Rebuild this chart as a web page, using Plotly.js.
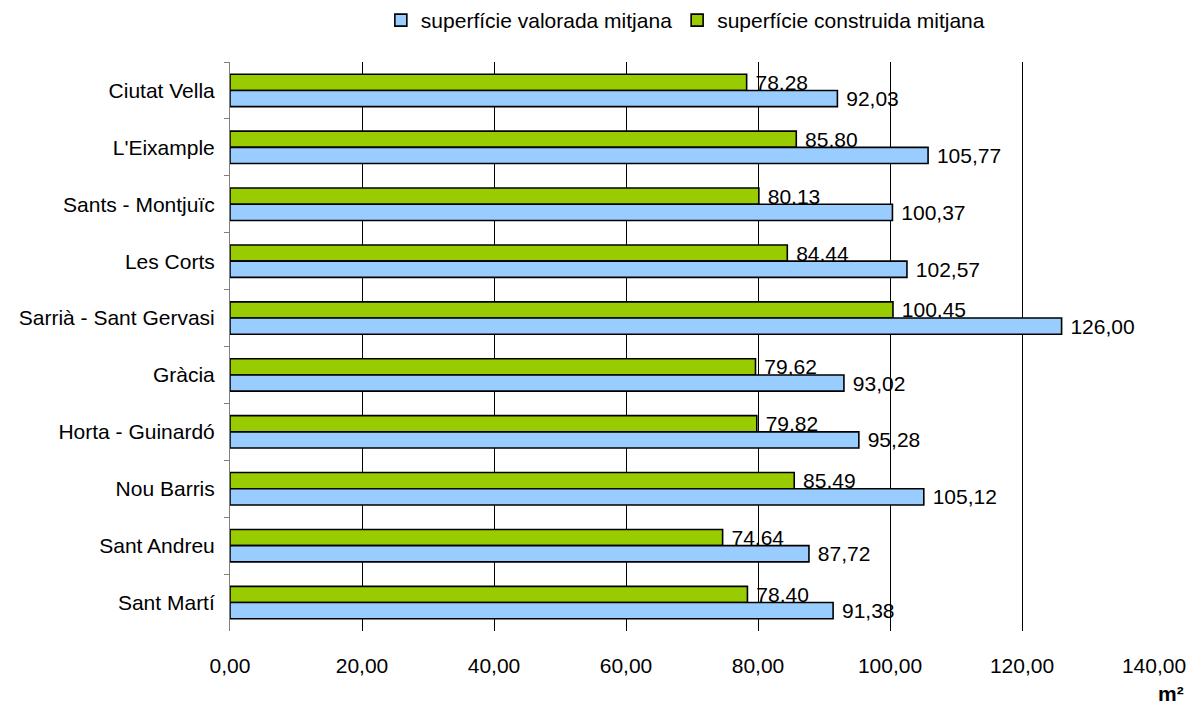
<!DOCTYPE html>
<html>
<head>
<meta charset="utf-8">
<script src="https://cdn.plot.ly/plotly-3.0.1.min.js"></script>
<style>html,body{margin:0;padding:0;background:#fff;}#chart{width:1194px;height:712px;}</style>
</head>
<body>
<div id="chart"></div>
<script>
const districts = ["Ciutat Vella","L'Eixample","Sants - Montjuïc","Les Corts","Sarrià - Sant Gervasi","Gràcia","Horta - Guinardó","Nou Barris","Sant Andreu","Sant Martí"];
const valorada = [92.03,105.77,100.37,102.57,126.00,93.02,95.28,105.12,87.72,91.38];
const construida = [78.28,85.80,80.13,84.44,100.45,79.62,79.82,85.49,74.64,78.40];
const seriesNames = ["superfície valorada mitjana","superfície construida mitjana"];
const xTicks = [0,20,40,60,80,100,120,140];
const unitLabel = "m²";

const font = "Liberation Sans, Arial, sans-serif";
const fs = 21;
// green trace first so it sits above the blue bar (y axis reversed); legend order reversed
const traces = [
  {type:'bar', orientation:'h', name:seriesNames[1], y:districts, x:construida,
   marker:{color:'#99CC00', line:{color:'#000', width:1.6}},
   texttemplate:' %{x:.2f}', textposition:'outside', cliponaxis:false, constraintext:'none',
   textfont:{family:font, size:fs, color:'#000'}, hoverinfo:'x+y'},
  {type:'bar', orientation:'h', name:seriesNames[0], y:districts, x:valorada,
   marker:{color:'#99CCFF', line:{color:'#000', width:1.6}},
   texttemplate:' %{x:.2f}', textposition:'outside', cliponaxis:false, constraintext:'none',
   textfont:{family:font, size:fs, color:'#000'}, hoverinfo:'x+y'}
];
const layout = {
  width:1194, height:712,
  margin:{l:230, r:40, t:62, b:81},
  separators:',.',
  barmode:'group', bargap:0.43, bargroupgap:0,
  paper_bgcolor:'#fff', plot_bgcolor:'#fff',
  font:{family:font, size:fs, color:'#000'},
  showlegend:true,
  legend:{orientation:'h', x:0.574, xanchor:'center', y:1.0, yanchor:'top', xref:'container', yref:'container',
          font:{family:font, size:fs, color:'#000'}, traceorder:'reversed', itemwidth:30, tracegroupgap:0},
  xaxis:{range:[0,140], tickvals:xTicks, tickformat:'.2f', showgrid:true, gridcolor:'#000', gridwidth:1,
         zeroline:false, showline:false, ticks:'', tickfont:{family:font, size:fs}, ticklabelstandoff:20, fixedrange:true},
  yaxis:{autorange:'reversed', showline:true, linecolor:'#808080', linewidth:1, ticks:'outside', ticklen:5,
         tickcolor:'#808080', tickson:'boundaries', showgrid:false, zeroline:false,
         tickfont:{family:font, size:fs}, ticklabelstandoff:10, fixedrange:true},
  annotations:[{text:'<b>'+unitLabel+'</b>', xref:'paper', yref:'paper', x:1.018, y:-0.109, xanchor:'center', yanchor:'middle',
                showarrow:false, font:{family:font, size:fs, color:'#000'}}]
};
Plotly.newPlot('chart', traces, layout, {displayModeBar:false, staticPlot:true});
</script>
</body>
</html>
